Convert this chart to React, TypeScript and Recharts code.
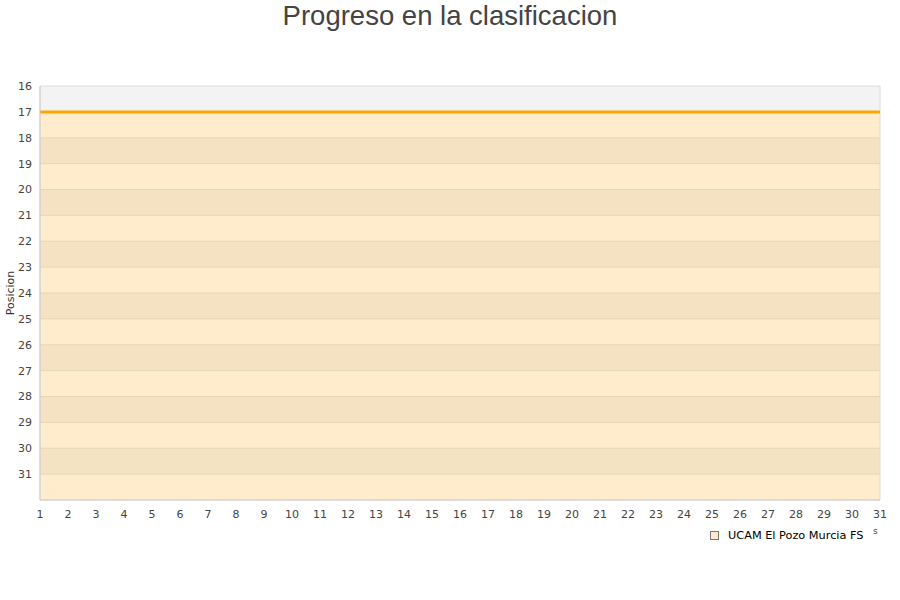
import { LineChart, Line, XAxis, YAxis, ReferenceArea, ReferenceLine } from "recharts";

/* ── Data ───────────────────────────────────────────────────────── */
const jornadas = [1, 2, 3, 4, 5, 6, 7, 8, 9, 10, 11, 12, 13, 14, 15, 16, 17, 18, 19, 20, 21, 22, 23, 24, 25, 26, 27, 28, 29, 30, 31];
const posiciones = [17, 17, 17, 17, 17, 17, 17, 17, 17, 17, 17, 17, 17, 17, 17, 17, 17, 17, 17, 17, 17, 17, 17, 17, 17, 17, 17, 17, 17, 17, 17];
const yTicks = [16, 17, 18, 19, 20, 21, 22, 23, 24, 25, 26, 27, 28, 29, 30, 31];
const bandStarts = [16, 17, 18, 19, 20, 21, 22, 23, 24, 25, 26, 27, 28, 29, 30, 31];
const teamName = "UCAM El Pozo Murcia FS";

const data = jornadas.map((j, i) => ({ jornada: j, pos: posiciones[i] }));

const tickStyle = { fill: "#444", fontSize: 11, fontFamily: "DejaVu Sans, sans-serif" };

function bandFill(start: number) {
  if (start === 16) return "#f3f3f3";
  return (start - 17) % 2 === 0 ? "#ffeccc" : "#f5e2c2";
}

export default function App() {
  return (
    <div style={{ position: "absolute", left: 0, top: 0, width: 900, height: 600, background: "#fff" }}>
      <div style={{ position: "absolute", top: 0, width: 900, textAlign: "center", fontFamily: "Liberation Sans, Arial, sans-serif", fontSize: 27.5, color: "#444", lineHeight: "32px" }}>
        Progreso en la clasificacion
      </div>
      <LineChart width={900} height={600} data={data} margin={{ top: 86, right: 20, bottom: 70, left: 0 }}>
        {bandStarts.map((s) => (
          <ReferenceArea key={s} y1={s} y2={s + 1} fill={bandFill(s)} fillOpacity={1} stroke="none" />
        ))}
        {bandStarts.slice(2).map((s) => (
          <ReferenceLine key={"l" + s} y={s} stroke="#e6d6b6" strokeWidth={1} />
        ))}
        <ReferenceArea y1={16} y2={32} fill="none" stroke="#dddddd" strokeWidth={1} />
        <XAxis dataKey="jornada" type="number" domain={[1, 31]} ticks={jornadas} interval={0}
          tickLine={false} axisLine={{ stroke: "#cccccc" }} tick={{ ...tickStyle, dy: 2 }} height={30} />
        <YAxis type="number" domain={[16, 32]} reversed ticks={yTicks} interval={0} width={40}
          tickLine={false} axisLine={{ stroke: "#cccccc" }} tick={tickStyle}
          label={{ value: "Posicion", angle: -90, position: "insideLeft", offset: 10, textAnchor: "middle", style: { fill: "#333", fontSize: 11, fontFamily: "DejaVu Sans, sans-serif", textAnchor: "middle" } }} />
        <Line type="linear" dataKey="pos" stroke="#ffa500" strokeWidth={3} dot={false} isAnimationActive={false} name={teamName} />
      </LineChart>
      <div style={{ position: "absolute", left: 710, top: 529, display: "flex", alignItems: "center", fontFamily: "DejaVu Sans, sans-serif", fontSize: 11.3, color: "#000" }}>
        <span style={{ width: 7, height: 7, background: "#ffeccc", border: "1px solid #777", marginRight: 9, display: "inline-block" }} />
        {teamName}
      </div>
      <div style={{ position: "absolute", left: 873, top: 526, fontFamily: "DejaVu Sans, sans-serif", fontSize: 9, color: "#444" }}>s</div>
    </div>
  );
}
